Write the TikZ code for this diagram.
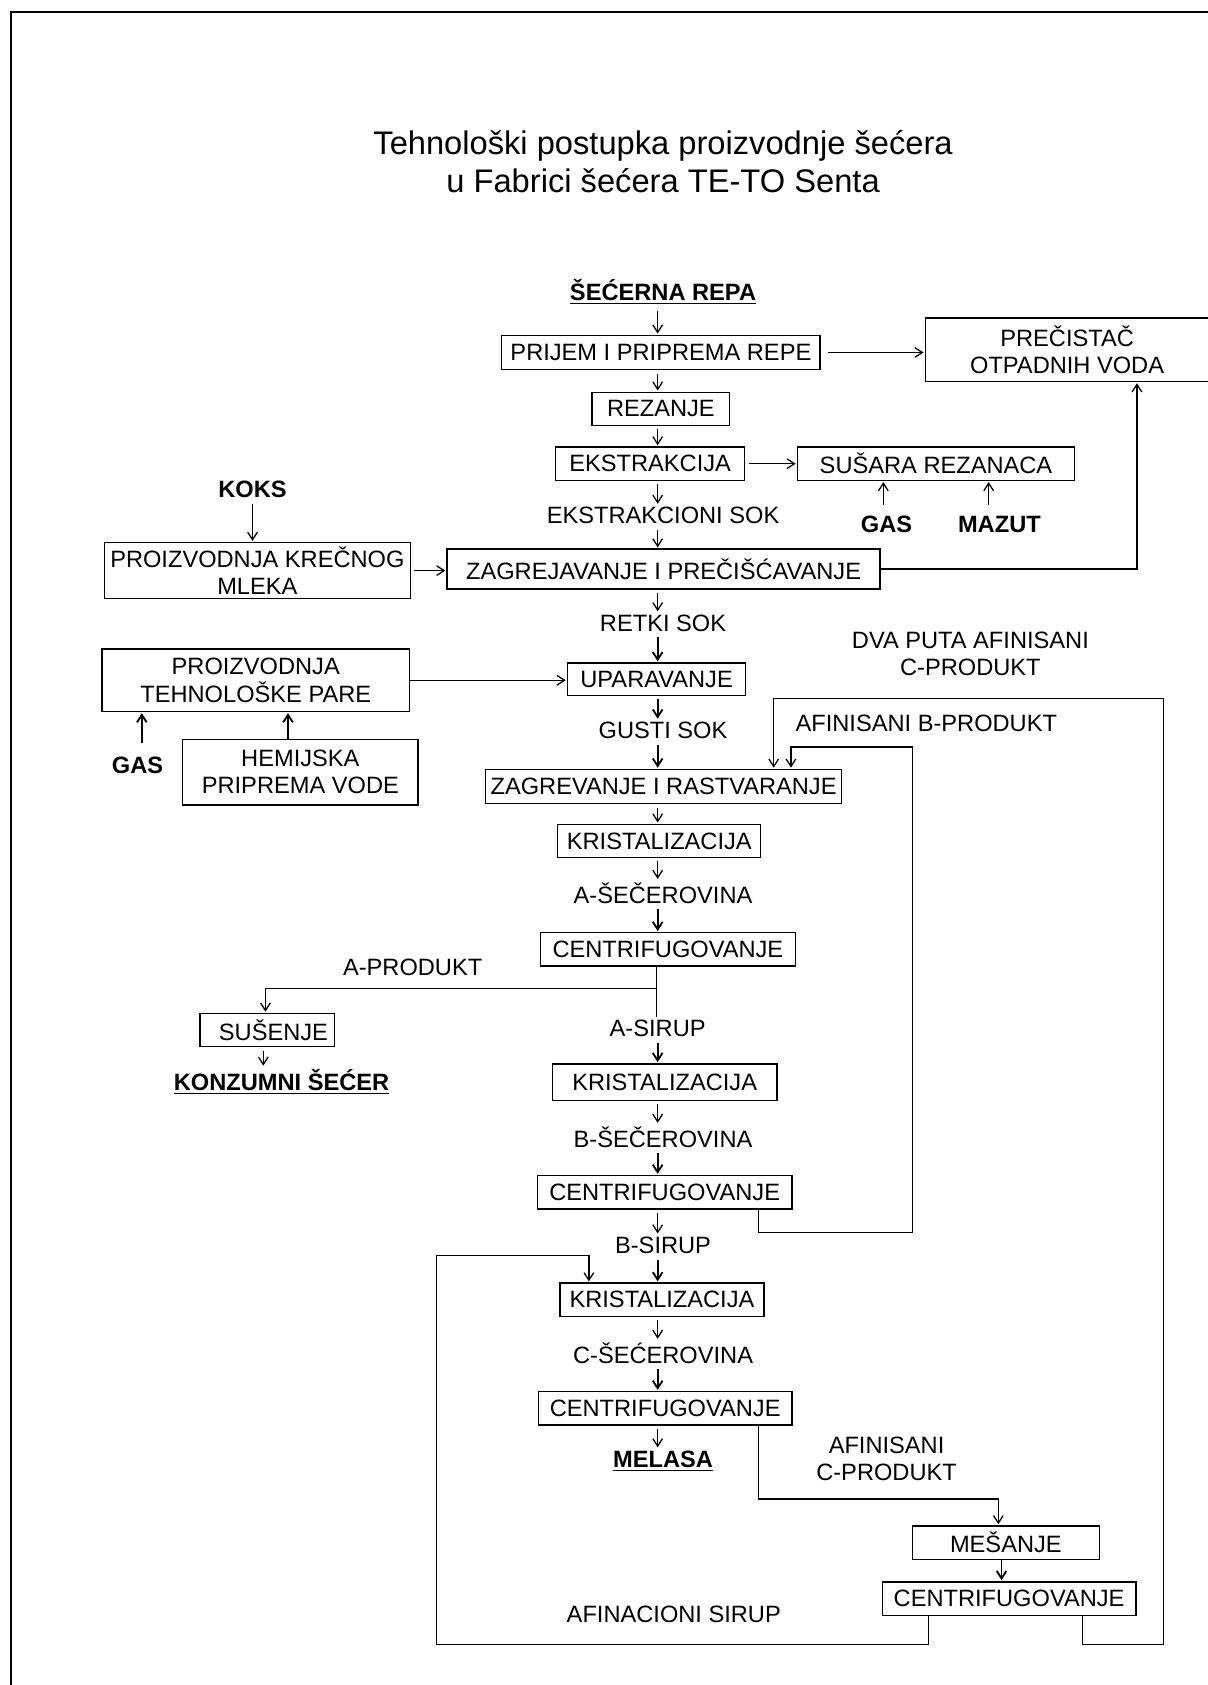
\documentclass[tikz,border=0pt]{standalone}
\usepackage{fontspec}
\setmainfont{Liberation Sans}
\usetikzlibrary{arrows.meta,calc}
\begin{document}
\begin{tikzpicture}[x=0.5pt,y=-0.5pt,
  box/.style={draw,line width=0.6pt,inner sep=0pt,align=center,font=\fontsize{11}{12.7}\selectfont},
  lbl/.style={inner sep=1pt,align=center,font=\fontsize{11}{12.7}\selectfont},
  blbl/.style={inner sep=1pt,align=center,font=\fontsize{11}{12.7}\selectfont\bfseries},
  arr/.style={line width=0.6pt,-{Straight Barb[length=3.5pt,width=4.5pt]},shorten <=1.5pt,shorten >=0.5pt},
  harr/.style={arr,line width=0.85pt},
  ln/.style={line width=0.6pt}]
\clip (0,0) rectangle (1124,1568);
\draw[line width=1pt] (1140,11) -- (10,11) -- (10,1580);
% title
\node[align=center,font=\fontsize{15.2}{17.5}\selectfont] (title) at (617,150.5)
  {Tehnološki postupka proizvodnje šećera\\u Fabrici šećera TE-TO Senta};
% main column
\node[blbl] (repa) at (617,272) {\underline{ŠEĆERNA REPA}};
\node[box,minimum width=148pt,minimum height=16pt] (prijem) at (615,328) {PRIJEM I PRIPREMA REPE};
\node[box,minimum width=132pt,minimum height=29.5pt] (precistac) at (993,325.5) {PREČISTAČ\\OTPADNIH VODA};
\node[box,minimum width=64pt,minimum height=15.5pt] (rezanje) at (615,380.5) {REZANJE};
\node[box,minimum width=88pt,minimum height=15.5pt] (ekstr) at (605,431.5) {EKSTRAKCIJA};
\node[box,minimum width=129pt,minimum height=15.5pt] (susara) at (871,431.5) {SUŠARA REZANACA};
\node[blbl] (gas1) at (825,488) {GAS};
\node[blbl] (mazut) at (930,488) {MAZUT};
\node[lbl] (eksok) at (617,480) {EKSTRAKCIONI SOK};
\node[blbl] (koks) at (235,455) {KOKS};
\node[box,minimum width=142.5pt,minimum height=26pt] (krec) at (239.5,531) {PROIZVODNJA KREČNOG\\MLEKA};
\node[box,minimum width=201.5pt,minimum height=18.5pt] (zagr) at (617.5,529.5) {ZAGREJAVANJE I PREČIŠĆAVANJE};
\node[lbl] (retki) at (617,580) {RETKI SOK};
\node[box,minimum width=143pt,minimum height=29pt] (pare) at (238,633) {PROIZVODNJA\\TEHNOLOŠKE PARE};
\node[box,minimum width=83pt,minimum height=15pt] (upar) at (611,632) {UPARAVANJE};
\node[blbl] (gas2) at (128,712) {GAS};
\node[box,minimum width=109.5pt,minimum height=30.5pt] (hemij) at (279.5,718.5) {HEMIJSKA\\PRIPREMA VODE};
\node[lbl] (gusti) at (617,680) {GUSTI SOK};
\node[lbl] (dva) at (903,608.5) {DVA PUTA AFINISANI\\C-PRODUKT};
\node[lbl] (afinb) at (862,673) {AFINISANI B-PRODUKT};
\node[box,minimum width=165.5pt,minimum height=16pt] (zagrev) at (617.5,732) {ZAGREVANJE I RASTVARANJE};
\node[box,minimum width=94.5pt,minimum height=15.5pt] (krist1) at (613.5,782.5) {KRISTALIZACIJA};
\node[lbl] (asec) at (617,831) {A-ŠEČEROVINA};
\node[box,minimum width=118.5pt,minimum height=15.5pt] (centr1) at (621.5,883.5) {CENTRIFUGOVANJE};
\node[lbl] (aprod) at (384,900) {A-PRODUKT};
\node[box,minimum width=62.5pt,minimum height=15.5pt] (susenje) at (248.5,958.5) {\hspace*{6pt}SUŠENJE};
\node[blbl] (konz) at (262,1007) {\underline{KONZUMNI ŠEĆER}};
\node[lbl] (asirup) at (612,957) {A-SIRUP};
\node[box,minimum width=104.5pt,minimum height=17pt] (krist2) at (618.5,1007) {KRISTALIZACIJA};
\node[lbl] (bsec) at (617,1058) {B-ŠEČEROVINA};
\node[box,minimum width=118.5pt,minimum height=15.5pt] (centr2) at (618.5,1109.5) {CENTRIFUGOVANJE};
\node[lbl] (bsirup) at (617,1159) {B-SIRUP};
\node[box,minimum width=95pt,minimum height=15.5pt] (krist3) at (616,1209.5) {KRISTALIZACIJA};
\node[lbl] (csec) at (617,1259) {C-ŠEĆEROVINA};
\node[box,minimum width=118pt,minimum height=15.5pt] (centr3) at (619,1310.5) {CENTRIFUGOVANJE};
\node[blbl] (melasa) at (617,1360) {\underline{MELASA}};
\node[lbl] (afinc) at (825,1357.5) {AFINISANI\\C-PRODUKT};
\node[box,minimum width=87pt,minimum height=15.5pt] (mesanje) at (936,1435.5) {MEŠANJE};
\node[box,minimum width=118pt,minimum height=15.5pt] (centr4) at (939,1487.5) {CENTRIFUGOVANJE};
\node[lbl] (afsirup) at (627,1502) {AFINACIONI SIRUP};
% helper coordinates
\coordinate (ax) at (612,0);
\coordinate (abr) at (611,920);
\coordinate (sx) at (247,0);
\coordinate (kx) at (245,0);
\coordinate (kox) at (235,0);
\coordinate (g1x) at (822,0);
\coordinate (g2x) at (920,0);
\coordinate (px) at (1058,0);
\coordinate (gx) at (132,0);
\coordinate (hx) at (268,0);
\coordinate (b2out) at (706,0);
\coordinate (b2r) at (849,1147);
\coordinate (b2t) at (736,695);
\coordinate (c2r) at (1083,1530);
\coordinate (c2t) at (720,650);
\coordinate (c4a) at (1007,0);
\coordinate (c4b) at (864,0);
\coordinate (asl) at (406,1530);
\coordinate (ast) at (548,1168);
\coordinate (c3out) at (706,0);
\coordinate (c3r) at (929,1395);
\coordinate (mx) at (932,0);
% main column arrows
\draw[arr] (repa.south -| ax) -- (prijem.north -| ax);
\draw[arr] (prijem.south -| ax) -- (rezanje.north -| ax);
\draw[arr] (rezanje.south -| ax) -- (ekstr.north -| ax);
\draw[arr] (ekstr.south -| ax) -- (eksok.north -| ax);
\draw[arr] (eksok.south -| ax) -- (zagr.north -| ax);
\draw[arr] (zagr.south -| ax) -- (retki.north -| ax);
\draw[harr] (retki.south -| ax) -- (upar.north -| ax);
\draw[harr] (upar.south -| ax) -- (gusti.north -| ax);
\draw[harr] (gusti.south -| ax) -- (zagrev.north -| ax);
\draw[arr] (zagrev.south -| ax) -- (krist1.north -| ax);
\draw[arr] (krist1.south -| ax) -- (asec.north -| ax);
\draw[harr] (asec.south -| ax) -- (centr1.north -| ax);
\draw[ln] (centr1.south -| abr) -- (asirup.north -| abr);
\draw[arr,shorten <=0pt] (abr) -| (susenje.north -| sx);
\draw[arr] (susenje.south -| kx) -- (konz.north -| kx);
\draw[harr] (asirup.south -| ax) -- (krist2.north -| ax);
\draw[arr] (krist2.south -| ax) -- (bsec.north -| ax);
\draw[harr] (bsec.south -| ax) -- (centr2.north -| ax);
\draw[arr] (centr2.south -| ax) -- (bsirup.north -| ax);
\draw[harr] (bsirup.south -| ax) -- (krist3.north -| ax);
\draw[arr] (krist3.south -| ax) -- (csec.north -| ax);
\draw[harr] (csec.south -| ax) -- (centr3.north -| ax);
\draw[arr] (centr3.south -| ax) -- (melasa.north -| ax);
% side arrows
\draw[arr,shorten <=3.5pt] (prijem.east) -- (precistac.west |- prijem.east);
\draw[arr] (ekstr.east) -- (susara.west |- ekstr.east);
\draw[arr,shorten <=4pt] (gas1.north -| g1x) -- (susara.south -| g1x);
\draw[arr,shorten <=4pt] (mazut.north -| g2x) -- (susara.south -| g2x);
\draw[arr,shorten <=0pt] (zagr.east) -| (precistac.south -| px);
\draw[arr,shorten <=2pt] (koks.south -| kox) -- (krec.north -| kox);
\draw[arr] (krec.east) -- (zagr.west |- krec.east);
\draw[arr,shorten <=0pt] (pare.east) -- (upar.west |- pare.east);
\draw[harr,shorten <=5pt] (gas2.north -| gx) -- (pare.south -| gx);
\draw[harr,shorten <=0pt] (hemij.north -| hx) -- (pare.south -| hx);
% recycle loops
\draw[arr,shorten <=0pt] (centr2.south -| b2out) |- (b2r) |- (b2t) -- (zagrev.north -| b2t);
\draw[arr,shorten <=0pt] (centr4.south -| c4a) |- (c2r) |- (c2t) -- (zagrev.north -| c2t);
\draw[arr,shorten <=0pt] (centr4.south -| c4b) |- (asl) |- (ast) -- (krist3.north -| ast);
\draw[arr,shorten <=0pt] (centr3.south -| c3out) |- (c3r) -- (mesanje.north -| c3r);
\draw[harr,shorten <=0pt] (mesanje.south -| mx) -- (centr4.north -| mx);
\end{tikzpicture}
\end{document}
